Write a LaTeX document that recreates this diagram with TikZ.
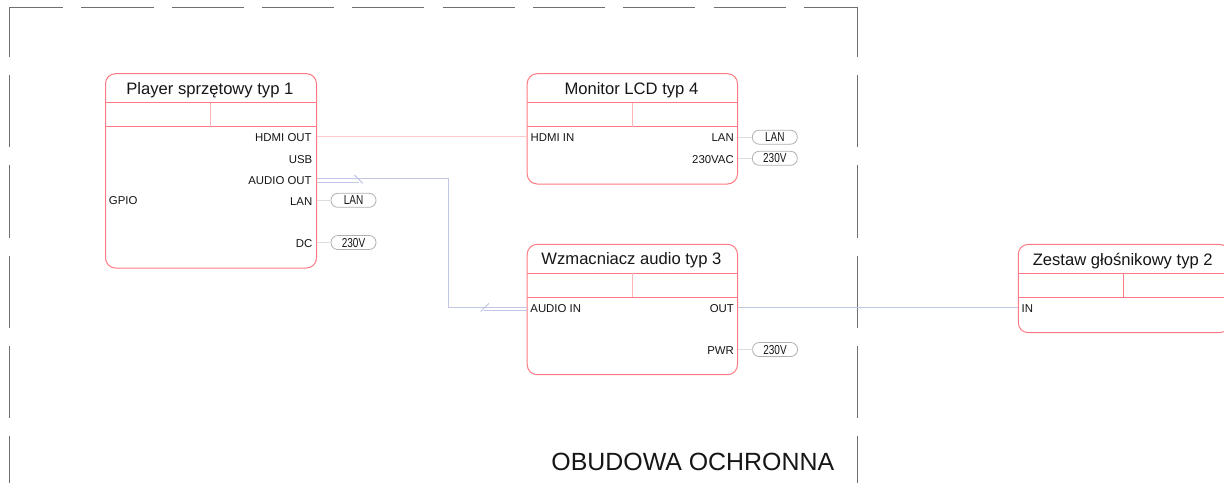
\documentclass[tikz,border=0pt]{standalone}
\usepackage{fontspec}
\usetikzlibrary{fit}
\setmainfont{Liberation Sans}
\newfontfamily\narrowf[FakeStretch=0.77]{Liberation Sans}
\definecolor{boxred}{HTML}{FF7A82}
\definecolor{softred}{HTML}{FFB4B8}
\definecolor{hdmipink}{HTML}{FFC8CC}
\definecolor{audioblue}{HTML}{C0C6E4}
\definecolor{stubgrey}{HTML}{DEDEDE}
\definecolor{framegrey}{HTML}{707070}
\definecolor{pillgrey}{HTML}{B0B0B0}
\definecolor{inkc}{HTML}{161616}
\tikzset{
  x=0.5pt,y=-0.5pt,
  blockbox/.style={draw=boxred,line width=0.5pt,rounded corners=5pt,inner sep=0pt,outer sep=0pt},
  splitline/.style={draw=boxred,line width=0.5pt},
  splitsoft/.style={draw=softred,line width=0.5pt},
  titletext/.style={font=\fontsize{8.3pt}{9pt}\selectfont,text=inkc,inner sep=0pt},
  portlabel/.style={font=\fontsize{5.7pt}{6pt}\selectfont,text=inkc,inner sep=0pt,text height=4.1pt,text depth=0pt},
  pill/.style={draw=pillgrey,line width=0.4pt,rounded corners=3.4pt,minimum width=22.5pt,minimum height=7pt,inner sep=0pt,outer sep=0pt,
    font=\narrowf\fontsize{6.5pt}{7pt}\selectfont,text=inkc,text height=4.6pt,text depth=0pt},
  stub/.style={draw=stubgrey,line width=0.4pt},
  hdmiwire/.style={draw=hdmipink,line width=0.5pt},
  audiowire/.style={draw=audioblue,line width=0.5pt},
  framewire/.style={draw=framegrey,line width=0.55pt},
  enclosure/.style={font=\fontsize{12.45pt}{14pt}\selectfont,text=inkc,inner sep=0pt}
}
% name, x1, y1, x2, y2, divider x, title, divider style
\newcommand{\blockunit}[8]{%
  \node[blockbox,fit={(#2,#3) (#4,#5)}] (#1) {};
  \draw[splitline] (#1.west |- #2,#3+28.8) -- (#1.east |- #2,#3+28.8);
  \draw[splitline] (#1.west |- #2,#3+52.8) -- (#1.east |- #2,#3+52.8);
  \draw[#8] (#6,#3+28.8) -- (#6,#3+52.8);
  \node[titletext] (#1-title) at (#6-0.6,#3+16.4) {#7};
}
\begin{document}
\begin{tikzpicture}
\useasboundingbox (0,0) rectangle (1224,482);
\clip (0,0) rectangle (1224,482);
\fill[white] (0,0) rectangle (1224,482);

% enclosure frame
\draw[framewire] (9.5,57) -- (9.5,7.5) -- (63,7.5);
\draw[framewire] (803.7,7.5) -- (857.5,7.5) -- (857.5,57);
\foreach \a/\b in {81/153.5,171.5/244,262/334,352/424,442.5/514.5,533/605,623/695,713.5/786}
  \draw[framewire] (\a,7.5) -- (\b,7.5);
\foreach \a/\b in {75/147,165/237.5,255.5/327.5,346/417.7,436/483}{
  \draw[framewire] (9.5,\a) -- (9.5,\b);
  \draw[framewire] (857.5,\a) -- (857.5,\b);
}
\node[enclosure,anchor=center] (enc) at (692.8,461.7) {OBUDOWA OCHRONNA};

% blocks
\blockunit{player}{105.5}{73.7}{316.5}{268}{210.5}{Player sprzętowy typ 1}{splitsoft}
\blockunit{monitor}{527.2}{73.7}{737.5}{184}{632}{Monitor LCD typ 4}{splitsoft}
\blockunit{amp}{527.2}{244.3}{737.5}{374.7}{632}{Wzmacniacz audio typ 3}{splitsoft}
\blockunit{spk}{1018.3}{244.3}{1229.3}{332.7}{1123.3}{Zestaw głośnikowy typ 2}{splitline}

% port labels
\node[portlabel,anchor=east] (pl-hdmi) at (312,137.8) {HDMI OUT};
\node[portlabel,anchor=east] (pl-usb) at (312.7,159.2) {USB};
\node[portlabel,anchor=east] (pl-audio) at (312,180.2) {AUDIO OUT};
\node[portlabel,anchor=east] (pl-lan) at (312.7,201.2) {LAN};
\node[portlabel,anchor=east] (pl-dc) at (312.7,243.2) {DC};
\node[portlabel,anchor=west] (pl-gpio) at (108.5,200.8) {GPIO};
\node[portlabel,anchor=west] (mo-hdmi) at (530.2,137.8) {HDMI IN};
\node[portlabel,anchor=east] (mo-lan) at (734.2,137.8) {LAN};
\node[portlabel,anchor=east] (mo-ac) at (734.2,159.2) {230VAC};
\node[portlabel,anchor=west] (am-in) at (530,308.5) {AUDIO IN};
\node[portlabel,anchor=east] (am-out) at (734.3,308.5) {OUT};
\node[portlabel,anchor=east] (am-pwr) at (734.3,350.5) {PWR};
\node[portlabel,anchor=west] (sp-in) at (1021.2,308.2) {IN};

% supply pills
\node[pill] (pl-lanpill) at (353.5,200.3) {LAN};
\node[pill] (pl-dcpill) at (353.5,242.5) {230V};
\node[pill] (mo-lanpill) at (774.8,137.2) {LAN};
\node[pill] (mo-acpill) at (774.8,158.3) {230V};
\node[pill] (am-pwrpill) at (775,349.5) {230V};
\draw[stub] (player.east |- pl-lanpill.west) -- (pl-lanpill.west);
\draw[stub] (player.east |- pl-dcpill.west) -- (pl-dcpill.west);
\draw[stub] (monitor.east |- mo-lanpill.west) -- (mo-lanpill.west);
\draw[stub] (monitor.east |- mo-acpill.west) -- (mo-acpill.west);
\draw[stub] (amp.east |- am-pwrpill.west) -- (am-pwrpill.west);

% signal wires
\draw[hdmiwire] (player.east |- 0,136.5) -- (monitor.west |- 0,136.5);
\coordinate (bend1) at (448.3,178.5);
\coordinate (bend2) at (448.3,307.3);
\draw[audiowire] (player.east |- bend1) -- (bend1) -- (bend2) -- (amp.west |- bend2);
\draw[audiowire] (player.east |- 0,182) -- (359.3,182);
\draw[audiowire] (354.3,175) -- (362.7,183.3);
\draw[audiowire] (amp.west |- 0,310.3) -- (484,310.3);
\draw[audiowire] (480.7,311.5) -- (489,303.3);
\draw[audiowire] (amp.east |- 0,307.5) -- (spk.west |- 0,307.5);
\end{tikzpicture}
\end{document}
